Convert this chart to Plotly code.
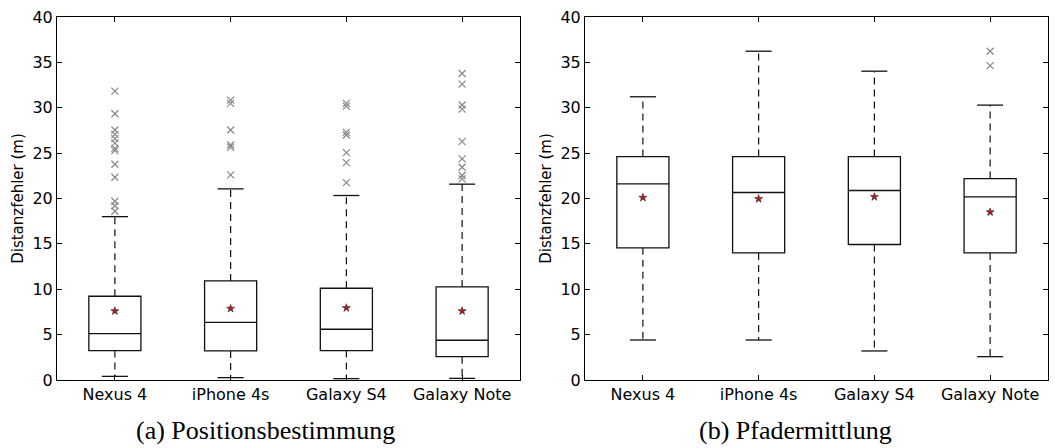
import plotly.graph_objects as go

categories = ["Nexus 4", "iPhone 4s", "Galaxy S4", "Galaxy Note"]

# (a) Positionsbestimmung
a_q1 = [3.24, 3.20, 3.24, 2.57]
a_median = [5.11, 6.36, 5.59, 4.38]
a_q3 = [9.23, 10.92, 10.11, 10.26]
a_low = [0.40, 0.26, 0.15, 0.18]
a_high = [18.0, 21.06, 20.33, 21.58]
a_mean = [7.60, 7.87, 7.94, 7.60]
a_outliers = [
    [31.83, 29.34, 27.55, 27.07, 26.6, 26.1, 25.53, 25.27, 23.77, 22.34, 19.7, 19.2, 18.6],
    [30.84, 30.48, 27.55, 25.9, 25.64, 22.6],
    [30.48, 30.18, 27.29, 27.0, 25.05, 23.95, 21.75],
    [33.77, 32.6, 30.3, 29.85, 26.26, 24.36, 23.44, 22.53, 22.16],
]

# (b) Pfadermittlung
b_q1 = [14.56, 14.0, 14.93, 14.0]
b_median = [21.61, 20.66, 20.88, 20.18]
b_q3 = [24.62, 24.62, 24.62, 22.2]
b_low = [4.41, 4.41, 3.20, 2.57]
b_high = [31.21, 36.23, 34.03, 30.29]
b_mean = [20.1, 19.96, 20.18, 18.5]
b_outliers = [[], [], [], [36.23, 34.65]]

y_ticks = [0, 5, 10, 15, 20, 25, 30, 35, 40]
y_title = "Distanzfehler (m)"
captions = ["(a) Positionsbestimmung", "(b) Pfadermittlung"]

BOX_W = 0.45
CAP_W = BOX_W / 2
FONT = "DejaVu Sans"

fig = go.Figure()
xpos = list(range(1, len(categories) + 1))


def add_panel(q1, med, q3, low, high, mean, outliers, xa, ya):
    fig.add_trace(go.Box(
        x=xpos, q1=q1, median=med, q3=q3, lowerfence=q1, upperfence=q3,
        width=BOX_W, line=dict(color="#111111", width=1.3),
        fillcolor="rgba(0,0,0,0)", boxpoints=False, whiskerwidth=0,
        xaxis=xa, yaxis=ya, showlegend=False, hoverinfo="skip",
    ))
    # whiskers (dashed) and caps (solid)
    wx, wy, cx, cy = [], [], [], []
    for i, x in enumerate(xpos):
        wx += [x, x, None, x, x, None]
        wy += [q3[i], high[i], None, q1[i], low[i], None]
        cx += [x - CAP_W / 2, x + CAP_W / 2, None, x - CAP_W / 2, x + CAP_W / 2, None]
        cy += [high[i], high[i], None, low[i], low[i], None]
    fig.add_trace(go.Scatter(x=wx, y=wy, mode="lines",
                             line=dict(color="#111111", width=1.2, dash="7px,5px"),
                             xaxis=xa, yaxis=ya, showlegend=False, hoverinfo="skip"))
    fig.add_trace(go.Scatter(x=cx, y=cy, mode="lines",
                             line=dict(color="#111111", width=1.3),
                             xaxis=xa, yaxis=ya, showlegend=False, hoverinfo="skip"))
    ox, oy = [], []
    for i, x in enumerate(xpos):
        ox += [x] * len(outliers[i])
        oy += outliers[i]
    fig.add_trace(go.Scatter(x=ox, y=oy, mode="markers",
                             marker=dict(symbol="x-thin", size=7,
                                         line=dict(color="#888888", width=1.2)),
                             xaxis=xa, yaxis=ya, showlegend=False, hoverinfo="skip"))
    fig.add_trace(go.Scatter(x=xpos, y=mean, mode="markers",
                             marker=dict(symbol="star", size=6, color="#cc1111",
                                         line=dict(color="#333333", width=0.7)),
                             xaxis=xa, yaxis=ya, showlegend=False, hoverinfo="skip"))


add_panel(a_q1, a_median, a_q3, a_low, a_high, a_mean, a_outliers, "x", "y")
add_panel(b_q1, b_median, b_q3, b_low, b_high, b_mean, b_outliers, "x2", "y2")

axis_common = dict(showline=True, linecolor="black", linewidth=1, mirror="ticks",
                   ticks="inside", ticklen=5, tickcolor="black", showgrid=False,
                   zeroline=False, tickfont=dict(family=FONT, size=16, color="black"))

fig.update_layout(
    width=1055, height=448,
    margin=dict(l=57, r=7, t=17, b=68),
    paper_bgcolor="white", plot_bgcolor="white",
    font=dict(family=FONT, color="black"),
    xaxis=dict(domain=[0, 0.4672], range=[0.5, 4.5], tickvals=xpos, ticktext=categories,
               **axis_common),
    xaxis2=dict(domain=[0.5328, 1], range=[0.5, 4.5], tickvals=xpos, ticktext=categories,
                anchor="y2", **axis_common),
    yaxis=dict(range=[0, 40], tickvals=y_ticks, anchor="x",
               title=dict(text=y_title, font=dict(family=FONT, size=15), standoff=5),
               **axis_common),
    yaxis2=dict(range=[0, 40], tickvals=y_ticks, anchor="x2",
                title=dict(text=y_title, font=dict(family=FONT, size=15), standoff=5),
                **axis_common),
)

for cx_, txt in zip([0.21, 0.745], captions):
    fig.add_annotation(text=txt, x=cx_, y=-0.14, xref="paper", yref="paper",
                       xanchor="center", yanchor="middle", showarrow=False,
                       font=dict(family="Liberation Serif", size=26, color="black"))

fig.write_html("out.html")
